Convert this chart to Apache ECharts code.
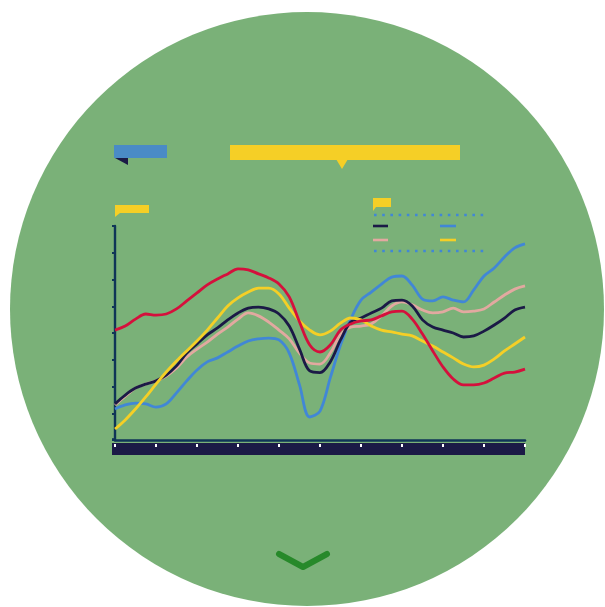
<!DOCTYPE html>
<html>
<head>
<meta charset="utf-8">
<script src="https://cdn.jsdelivr.net/npm/echarts@6/dist/echarts.min.js"></script>
<style>
  html, body { margin: 0; padding: 0; background: #ffffff; }
  #chart { width: 605px; height: 607px; }
</style>
</head>
<body>
<div id="chart"></div>
<script>
// Periods along the x axis (a tick every fourth period)
const periods = ['1','2','3','4','5','6','7','8','9','10','11','12','13','14','15','16','17','18','19','20',
  '21','22','23','24','25','26','27','28','29','30','31','32','33','34','35','36','37','38','39','40','41'];

// Y axis range and step
const yMin = 0, yMax = 80, yStep = 10;

// Series values
const redSeries = [41.1,42.6,45.2,47.1,46.7,47.1,49.0,52.0,55.0,58.0,60.2,62.1,64.0,63.6,62.1,60.6,58.3,53.5,44.1,35.5,
  32.9,35.5,41.1,43.4,44.5,44.9,46.4,47.9,48.2,45.2,39.6,33.3,27.3,22.8,20.6,20.6,21.3,23.2,25.0,25.4,26.5];
const navySeries = [13.5,16.8,19.4,20.9,22.1,24.3,27.7,32.5,35.9,39.3,41.9,44.9,47.5,49.3,49.7,49.0,47.1,42.6,34.0,25.8,
  25.2,29.2,37.4,44.1,45.6,47.5,49.3,52.0,52.3,50.1,44.9,42.2,41.1,40.0,38.5,38.9,40.7,43.0,45.6,48.6,49.7];
const blueSeries = [11.6,13.1,13.8,13.5,12.3,13.5,17.6,22.1,26.2,29.2,30.7,32.9,35.1,37.0,37.8,38.1,37.4,32.5,20.6,8.6,
  10.8,23.2,35.5,45.2,52.3,55.3,58.3,60.9,61.3,57.9,52.7,52.0,53.5,52.3,51.6,56.1,61.3,64.3,68.4,71.8,73.3];
const yellowSeries = [4.1,7.5,11.6,16.1,20.9,25.4,29.5,33.3,37.0,41.1,45.6,50.1,53.1,55.3,56.8,56.8,54.6,49.3,44.5,41.1,
  39.3,40.7,43.7,45.6,44.9,42.6,41.1,40.4,39.6,38.9,37.0,35.1,32.9,30.7,28.4,27.3,28.0,30.3,33.3,35.9,38.5];
const pinkSeries = [13.1,16.4,19.4,20.9,22.1,23.9,26.9,31.0,34.0,36.6,39.6,42.2,45.2,47.5,46.4,44.1,41.1,37.8,32.5,28.8,
  28.4,32.5,39.3,42.2,42.6,43.4,46.4,50.1,51.6,50.5,48.6,47.5,47.9,49.3,47.9,48.2,49.0,51.6,54.2,56.4,57.6];

const NAVY = '#1b1a46';
const AXIS = '#0f3557';
const BLUE = '#4187d6';
const RED = '#d5103c';
const YELLOW = '#f5cf26';
const PINK = '#e2a9a0';
const GREEN_BG = '#7ab178';

const chart = echarts.init(document.getElementById('chart'), null, { renderer: 'canvas' });

function lineSeries(name, data, color) {
  return {
    name: name,
    type: 'line',
    data: data,
    smooth: 0.35,
    symbol: 'none',
    lineStyle: { color: color, width: 2.8 },
    xAxisIndex: 0,
    yAxisIndex: 0
  };
}

// Short legend swatch segment
function swatch(x1, x2, y, color) {
  return { type: 'line', z: 5, shape: { x1: x1, y1: y, x2: x2, y2: y },
    style: { stroke: color, lineWidth: 2.6 } };
}
function dotted(x1, x2, y) {
  return { type: 'line', z: 5, shape: { x1: x1, y1: y, x2: x2, y2: y },
    style: { stroke: BLUE, lineWidth: 2.6, lineDash: [2.6, 5.6] } };
}

chart.setOption({
  animation: false,
  backgroundColor: '#ffffff',
  grid: { left: 115, top: 226, right: 80, bottom: 167, containLabel: false },
  xAxis: [
    {
      type: 'category', data: periods, boundaryGap: false,
      axisLine: { show: true, lineStyle: { color: AXIS, width: 2.6 } },
      axisTick: { show: false }, axisLabel: { show: false }, splitLine: { show: false }
    },
    {
      type: 'category', data: periods, boundaryGap: false, position: 'bottom', offset: 4,
      axisLine: { show: false },
      axisTick: { show: true, interval: 3, length: 3, lineStyle: { color: '#ffffff', width: 2 } },
      axisLabel: { show: false }, splitLine: { show: false }
    }
  ],
  yAxis: {
    type: 'value', min: yMin, max: yMax, interval: yStep,
    axisLine: { show: true, lineStyle: { color: AXIS, width: 2.4 } },
    axisTick: { show: true, length: 3, lineStyle: { color: AXIS, width: 2 } },
    axisLabel: { show: false }, splitLine: { show: false }
  },
  series: [
    lineSeries('blue', blueSeries, BLUE),
    lineSeries('pink', pinkSeries, PINK),
    lineSeries('navy', navySeries, NAVY),
    lineSeries('yellow', yellowSeries, YELLOW),
    lineSeries('red', redSeries, RED)
  ],
  graphic: [
    // Round panel behind everything
    { type: 'circle', z: -10, shape: { cx: 307, cy: 309, r: 297 }, style: { fill: GREEN_BG } },
    // Band under the x axis, and the short stub of axis line left of the y axis
    { type: 'rect', z: -1, shape: { x: 112, y: 443, width: 413, height: 12 }, style: { fill: NAVY } },
    { type: 'line', z: -1, shape: { x1: 112, y1: 439.5, x2: 116, y2: 439.5 }, style: { stroke: AXIS, lineWidth: 2.6 } },
    // Blue title tab with its folded corner
    { type: 'rect', z: 5, shape: { x: 114, y: 145, width: 53, height: 13 }, style: { fill: '#4a8bc6' } },
    { type: 'polygon', z: 5, shape: { points: [[115, 158], [128, 158], [128, 165]] }, style: { fill: NAVY } },
    // Yellow banner with pointer
    { type: 'rect', z: 5, shape: { x: 230, y: 145, width: 230, height: 15 }, style: { fill: YELLOW } },
    { type: 'polygon', z: 5, shape: { points: [[336, 159], [348, 159], [342, 169]] }, style: { fill: YELLOW } },
    // Axis-title flag
    { type: 'polygon', z: 5, shape: { points: [[115, 205], [149, 205], [149, 213], [120, 213], [115, 217]] }, style: { fill: YELLOW } },
    // Legend flag
    { type: 'polygon', z: 5, shape: { points: [[373, 198], [391, 198], [391, 207], [376, 207], [373, 211]] }, style: { fill: YELLOW } },
    // Legend rows
    dotted(374, 487, 215),
    swatch(373, 388, 226, NAVY),
    swatch(440, 456, 226, BLUE),
    swatch(373, 388, 240, PINK),
    swatch(440, 456, 240, YELLOW),
    dotted(374, 487, 251),
    // Chevron
    { type: 'polyline', z: 5, shape: { points: [[279, 554], [303, 567], [327, 554]] },
      style: { stroke: '#27892a', lineWidth: 6, lineCap: 'round', lineJoin: 'round', fill: null } }
  ]
});
</script>
</body>
</html>
